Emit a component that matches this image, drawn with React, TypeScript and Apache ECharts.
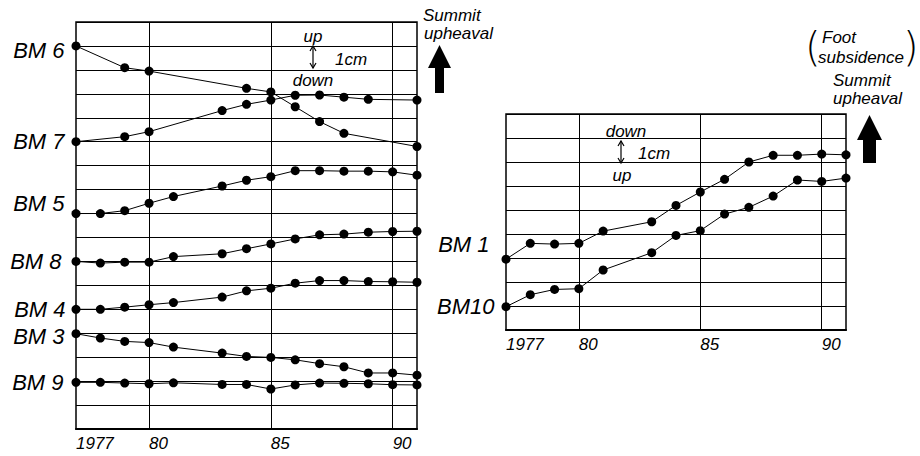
import React, { useEffect, useRef } from "react";
import * as echarts from "echarts";

// ---- axis / tick data ----
const yearMin = 1977;
const yearMax = 1991;
const xTickValues = [1977, 1980, 1985, 1990];
const xTickLabels = ["1977", "80", "85", "90"];
const xGridYears = [1980, 1985, 1990];
const leftRangeCm = 17;
const rightRangeCm = 9;

// ---- survey years ----
const fullYears = [1977, 1978, 1979, 1980, 1981, 1983, 1984, 1985, 1986, 1987, 1988, 1989, 1990, 1991];
const bm6Years = [1977, 1979, 1980, 1984, 1985, 1986, 1987, 1988, 1991];
const bm7Years = [1977, 1979, 1980, 1983, 1984, 1985, 1986, 1987, 1988, 1989, 1991];

// ---- plotted heights (cm, relative, as drawn) ----
const bm6 = [16.0, 15.09, 14.95, 14.23, 14.08, 13.46, 12.84, 12.35, 11.8];
const bm7 = [12.0, 12.21, 12.42, 13.3, 13.56, 13.74, 13.94, 13.95, 13.86, 13.77, 13.74];
const bm5 = [9.0, 9.0, 9.12, 9.43, 9.71, 10.15, 10.39, 10.54, 10.79, 10.79, 10.77, 10.77, 10.74, 10.6];
const bm8 = [7.0, 6.93, 6.97, 6.97, 7.2, 7.32, 7.53, 7.73, 7.94, 8.11, 8.14, 8.22, 8.25, 8.26];
const bm4 = [5.0, 5.0, 5.09, 5.19, 5.28, 5.51, 5.77, 5.88, 6.09, 6.2, 6.2, 6.16, 6.15, 6.13];
const bm3 = [3.98, 3.8, 3.66, 3.61, 3.42, 3.17, 3.03, 2.99, 2.89, 2.73, 2.6, 2.34, 2.34, 2.25];
const bm9 = [1.95, 1.95, 1.92, 1.89, 1.93, 1.86, 1.86, 1.67, 1.84, 1.92, 1.91, 1.89, 1.85, 1.84];
const bm1 = [2.95, 3.61, 3.58, 3.61, 4.12, 4.51, 5.19, 5.75, 6.28, 7.0, 7.28, 7.28, 7.33, 7.3];
const bm10 = [0.97, 1.47, 1.69, 1.72, 2.5, 3.22, 3.94, 4.14, 4.83, 5.11, 5.58, 6.25, 6.19, 6.33];

const labelFont = "'Liberation Sans', Arial, sans-serif";

function makeSeries(name: string, years: number[], vals: number[], gi: number, dist: number, dy: number) {
  return {
    type: "line",
    name,
    xAxisIndex: gi,
    yAxisIndex: gi,
    clip: false,
    symbol: "circle",
    symbolSize: 9,
    showAllSymbol: true,
    itemStyle: { color: "#000" },
    lineStyle: { color: "#000", width: 1 },
    data: years.map((y, i) =>
      i === 0
        ? {
            value: [y, vals[i]],
            label: {
              show: true,
              position: "left",
              distance: dist,
              offset: [0, dy],
              formatter: name,
              color: "#000",
              fontSize: 22,
              fontStyle: "italic",
              fontFamily: labelFont,
            },
          }
        : { value: [y, vals[i]] }
    ),
  };
}

function vLines() {
  return {
    silent: true,
    symbol: ["none", "none"],
    label: { show: false },
    lineStyle: { color: "#000", width: 1, type: "solid" },
    data: xGridYears.map((v) => ({ xAxis: v })),
  };
}

function xAxis(gi: number) {
  return {
    type: "value",
    gridIndex: gi,
    min: yearMin,
    max: yearMax,
    interval: 1,
    axisLine: { show: true, lineStyle: { color: "#000", width: 2 } },
    axisTick: { show: false },
    splitLine: { show: false },
    axisLabel: {
      interval: 0,
      align: "left",
      margin: 6,
      color: "#000",
      fontSize: 17,
      fontStyle: "italic",
      fontFamily: labelFont,
      formatter: (v: number) => {
        const k = xTickValues.indexOf(v);
        return k >= 0 ? xTickLabels[k] : "";
      },
    },
  };
}

function yAxis(gi: number, max: number) {
  return {
    type: "value",
    gridIndex: gi,
    min: 0,
    max,
    interval: 1,
    axisLine: { show: false },
    axisTick: { show: false },
    axisLabel: { show: false },
    splitLine: { show: true, lineStyle: { color: "#000", width: 1 } },
  };
}

const txt = (x: number, y: number, text: string, size: number, align: string = "left") => ({
  type: "text",
  x,
  y,
  style: {
    text,
    fill: "#000",
    fontSize: size,
    fontStyle: "italic",
    fontFamily: labelFont,
    align,
    verticalAlign: "middle",
  },
});

const dblArrow = (x: number, y1: number, y2: number) => ({
  type: "group",
  children: [
    { type: "line", shape: { x1: x, y1, x2: x, y2 }, style: { stroke: "#000", lineWidth: 1.2 } },
    { type: "polyline", shape: { points: [[x - 3, y1 + 5], [x, y1], [x + 3, y1 + 5]] }, style: { stroke: "#000", lineWidth: 1.2, fill: "none" } },
    { type: "polyline", shape: { points: [[x - 3, y2 - 5], [x, y2], [x + 3, y2 - 5]] }, style: { stroke: "#000", lineWidth: 1.2, fill: "none" } },
  ],
});

const bigArrow = (x0: number, x1: number, top: number, headBase: number, bottom: number, s0: number, s1: number) => ({
  type: "polygon",
  shape: {
    points: [
      [(x0 + x1) / 2, top],
      [x1, headBase],
      [s1, headBase],
      [s1, bottom],
      [s0, bottom],
      [s0, headBase],
      [x0, headBase],
    ],
  },
  style: { fill: "#000" },
});

export default function App() {
  const ref = useRef<HTMLDivElement>(null);
  useEffect(() => {
    document.body.style.margin = "0";
    const chart = echarts.init(ref.current!, null, { renderer: "svg" });
    const s6 = makeSeries("BM 6", bm6Years, bm6, 0, 7, 5);
    (s6 as any).markLine = vLines();
    const s1 = makeSeries("BM 1", fullYears, bm1, 1, 12, -15);
    (s1 as any).markLine = vLines();
    chart.setOption({
      animation: false,
      backgroundColor: "#fff",
      grid: [
        { left: 76, top: 22, width: 341, height: 407, show: true, borderColor: "#000", borderWidth: 1.5, backgroundColor: "transparent" },
        { left: 506, top: 114, width: 340, height: 216, show: true, borderColor: "#000", borderWidth: 1.5, backgroundColor: "transparent" },
      ],
      xAxis: [xAxis(0), xAxis(1)],
      yAxis: [yAxis(0, leftRangeCm), yAxis(1, rightRangeCm)],
      series: [
        s6,
        makeSeries("BM 7", bm7Years, bm7, 0, 7, 0),
        makeSeries("BM 5", fullYears, bm5, 0, 7, -10),
        makeSeries("BM 8", fullYears, bm8, 0, 10, 0),
        makeSeries("BM 4", fullYears, bm4, 0, 6, 0),
        makeSeries("BM 3", fullYears, bm3, 0, 7, 3),
        makeSeries("BM 9", fullYears, bm9, 0, 8, 0),
        s1,
        makeSeries("BM10", fullYears, bm10, 1, 7, 0),
      ],
      graphic: [
        txt(313, 36, "up", 17, "center"),
        dblArrow(313, 46, 68),
        txt(335, 59, "1cm", 17),
        txt(313, 80, "down", 17, "center"),
        txt(423, 15, "Summit", 17),
        txt(424, 33, "upheaval", 17),
        bigArrow(428, 451, 45, 68, 93, 435, 444),
        txt(626, 131, "down", 17, "center"),
        dblArrow(621, 141, 163),
        txt(638, 153, "1cm", 17),
        txt(622, 175, "up", 17, "center"),
        { type: "text", x: 805, y: 47, style: { text: "(", fill: "#000", fontSize: 40, fontFamily: "'DejaVu Sans', sans-serif", fontWeight: 200, verticalAlign: "middle" } },
        txt(822, 37, "Foot", 17),
        txt(818, 57, "subsidence", 17),
        { type: "text", x: 903, y: 47, style: { text: ")", fill: "#000", fontSize: 40, fontFamily: "'DejaVu Sans', sans-serif", fontWeight: 200, verticalAlign: "middle" } },
        txt(833, 80, "Summit", 17),
        txt(833, 98, "upheaval", 17),
        bigArrow(857, 882, 115, 140, 163, 863, 876),
      ],
    });
    return () => chart.dispose();
  }, []);
  return <div ref={ref} style={{ width: 920, height: 456 }} />;
}
